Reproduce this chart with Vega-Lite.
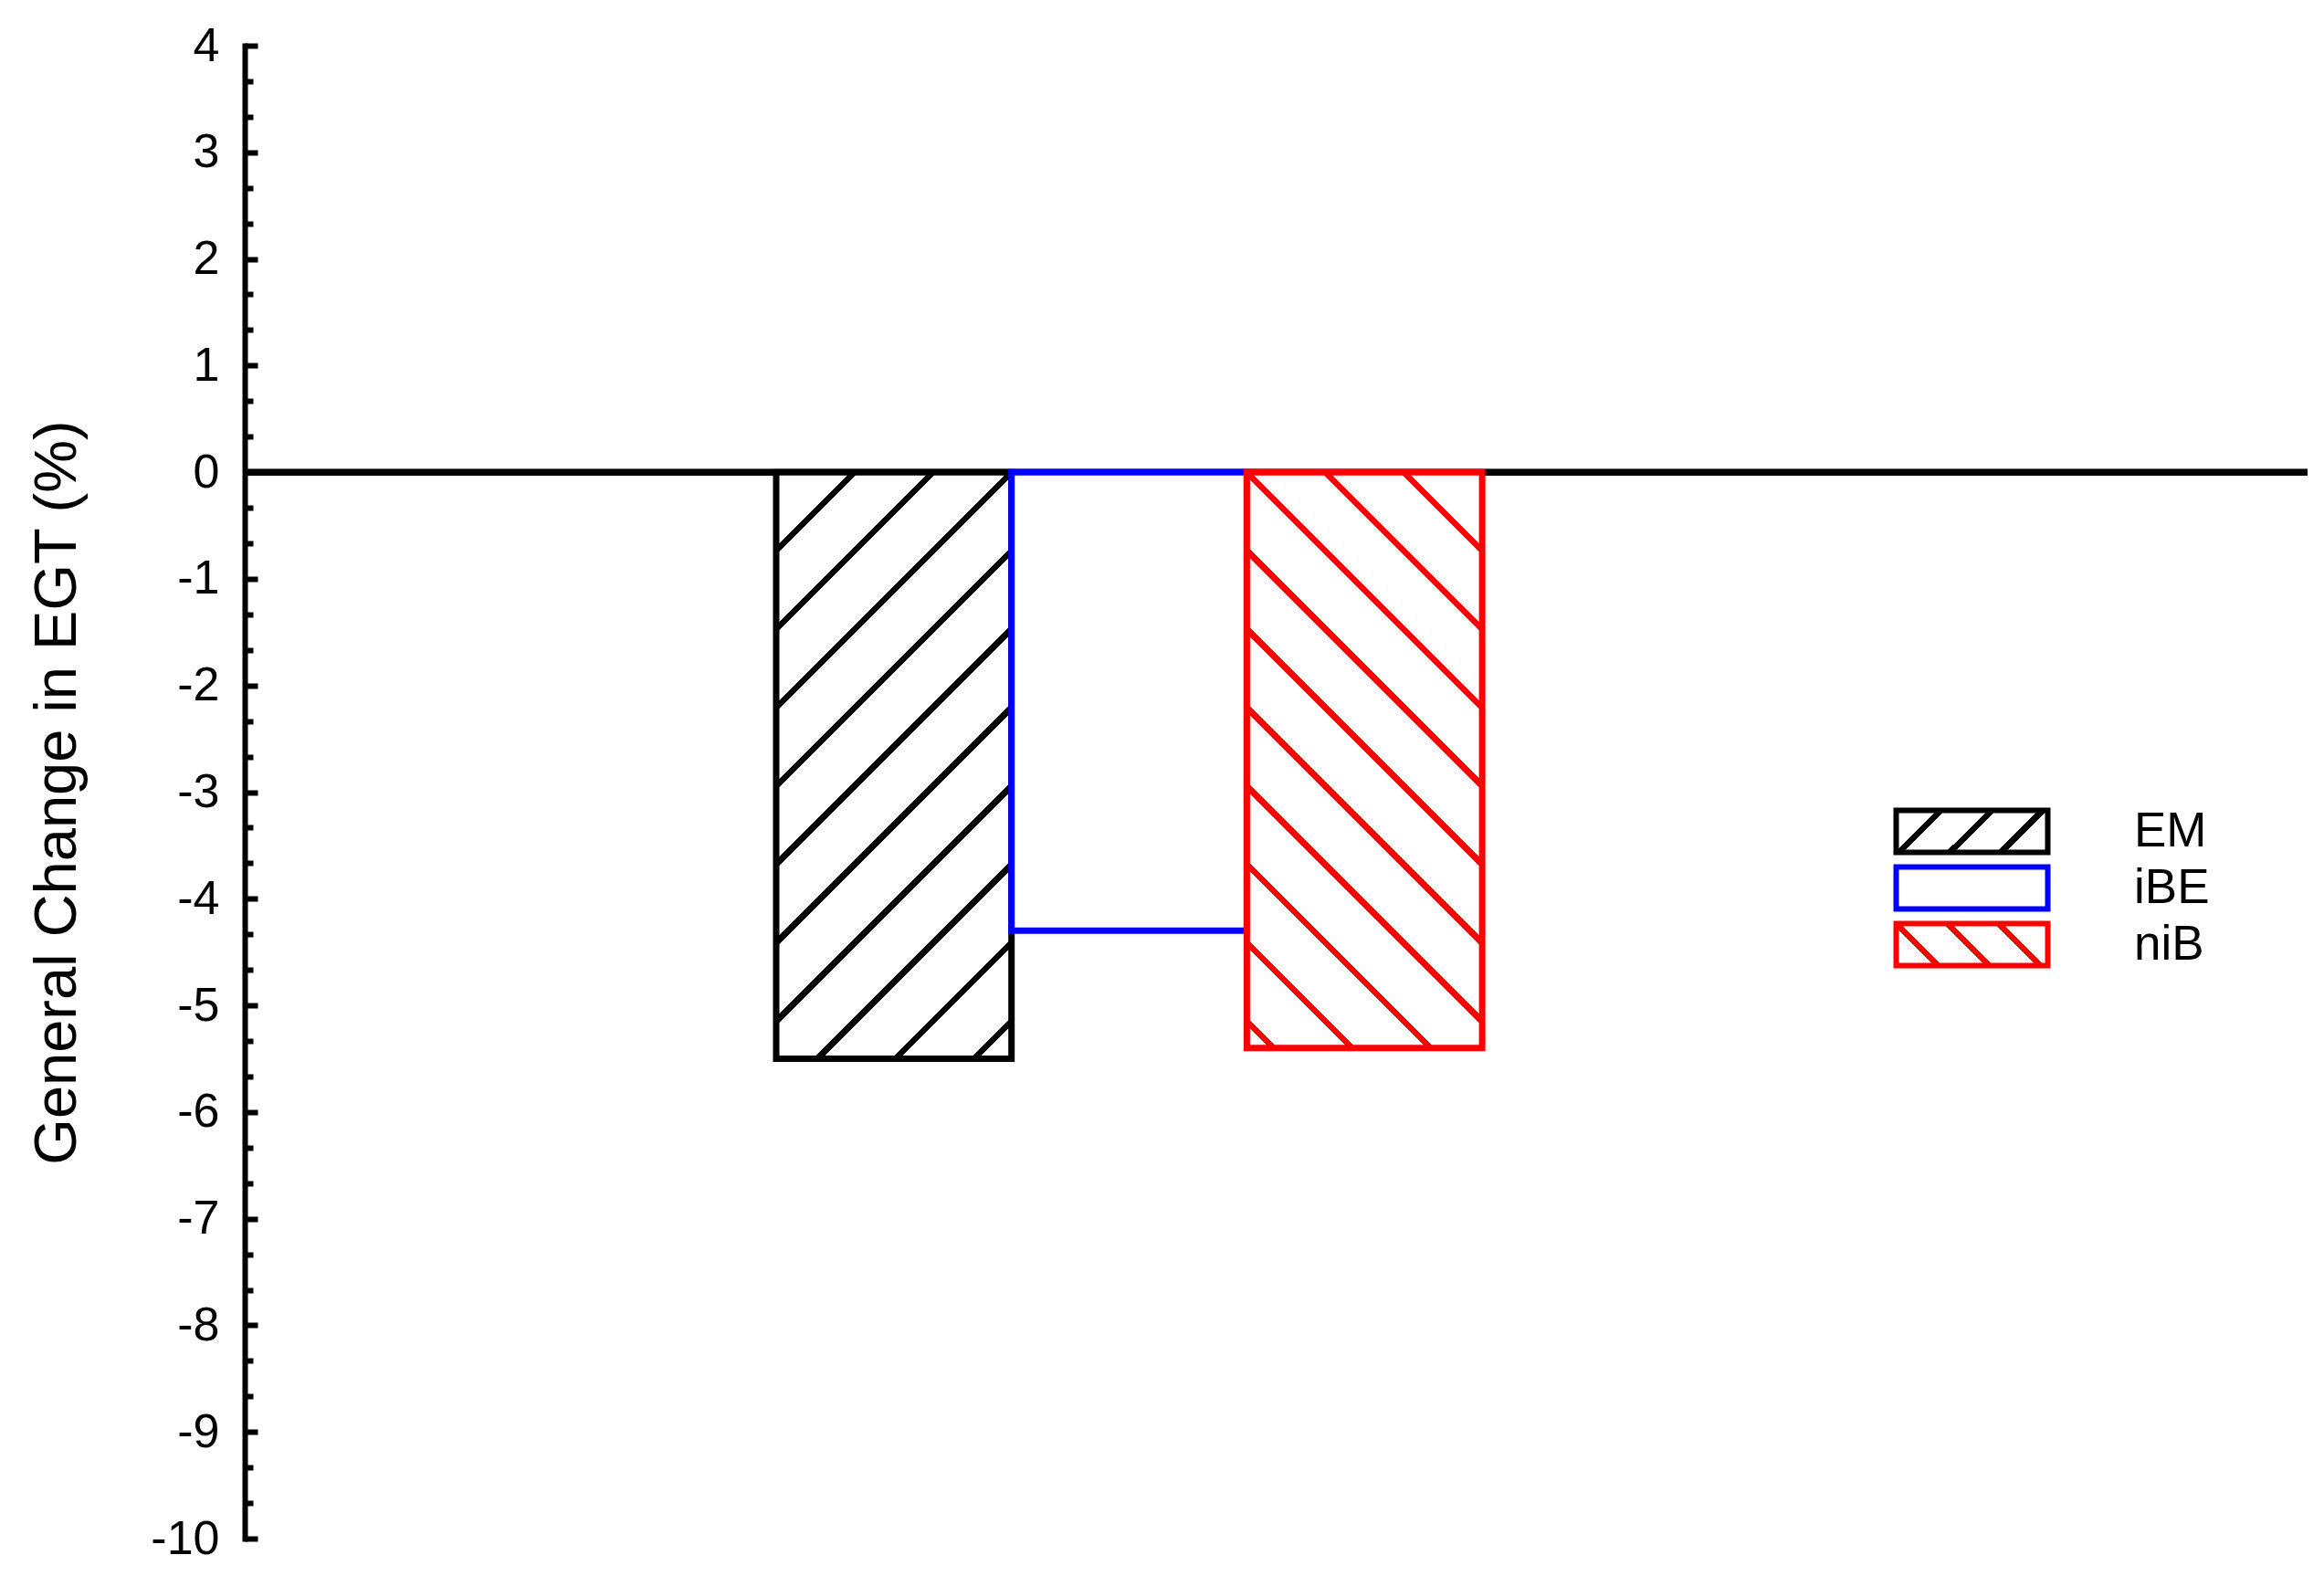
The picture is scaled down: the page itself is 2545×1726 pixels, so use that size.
{
  "$schema": "https://vega.github.io/schema/vega-lite/v6.json",
  "width": 2259,
  "height": 1635,
  "autosize": "none",
  "padding": {"left": 268, "top": 50, "right": 18, "bottom": 41},
  "background": "white",
  "config": {"view": {"stroke": null}, "font": "Liberation Sans"},
  "data": {
    "values": [
      {"measure": "EGT", "series": "EM", "change": -5.5},
      {"measure": "EGT", "series": "iBE", "change": -4.3},
      {"measure": "EGT", "series": "niB", "change": -5.4}
    ]
  },
  "layer": [
    {
      "mark": {"type": "rule", "color": "black", "strokeWidth": 7},
      "encoding": {"y": {"datum": 0, "type": "quantitative"}}
    },
    {
      "encoding": {
        "x": {
          "field": "measure",
          "type": "nominal",
          "scale": {"paddingInner": 0, "paddingOuter": 0.961, "align": 0.39168, "round": false},
          "axis": null
        },
        "xOffset": {
          "field": "series",
          "type": "nominal",
          "scale": {"domain": ["EM", "iBE", "niB"], "paddingInner": 0, "paddingOuter": 0, "round": false}
        },
        "y": {
          "field": "change",
          "type": "quantitative",
          "scale": {"domain": [-10, 4], "nice": false, "zero": false},
          "axis": {
            "values": [4, 3.6667, 3.3333, 3, 2.6667, 2.3333, 2, 1.6667, 1.3333, 1, 0.6667, 0.3333, 0, -0.3333, -0.6667, -1, -1.3333, -1.6667, -2, -2.3333, -2.6667, -3, -3.3333, -3.6667, -4, -4.3333, -4.6667, -5, -5.3333, -5.6667, -6, -6.3333, -6.6667, -7, -7.3333, -7.6667, -8, -8.3333, -8.6667, -9, -9.3333, -9.6667, -10],
            "tickCount": 200,
            "labelExpr": "datum.value % 1 === 0 ? toString(datum.value) : ''",
            "labelOverlap": false,
            "labelFlush": false,
            "labelBound": false,
            "labelFontSize": 52,
            "labelColor": "black",
            "labelPadding": 42,
            "tickSize": {"condition": {"test": "datum.value % 1 === 0", "value": -14}, "value": -9},
            "tickWidth": 6,
            "tickColor": "black",
            "domainColor": "black",
            "domainWidth": 6,
            "domainCap": "square",
            "grid": false,
            "title": "General Change in EGT (%)",
            "titleFontSize": 65,
            "titleFontWeight": "normal",
            "titleColor": "black",
            "titleAngle": -90,
            "titleAlign": "center",
            "titleBaseline": "alphabetic",
            "titleX": -186,
            "titleY": 817.5
          }
        },
        "stroke": {
          "field": "series",
          "type": "nominal",
          "scale": {"domain": ["EM", "iBE", "niB"], "range": ["#000000", "#0000ff", "#ff0000"]},
          "legend": {
            "orient": "none",
            "legendX": 1865,
            "legendY": 834,
            "title": null,
            "symbolType": "M-3.6087,-1H3.6087V1H-3.6087Z",
            "symbolSize": 2116,
            "symbolStrokeWidth": 6,
            "symbolOpacity": 1,
            "labelFontSize": 53,
            "labelColor": "black",
            "labelOffset": 151,
            "rowPadding": -9
          }
        }
      },
      "layer": [
        {
          "mark": {"type": "bar", "opacity": 0},
          "encoding": {
            "fill": {
              "field": "series",
              "type": "nominal",
              "scale": {
                "domain": ["EM", "iBE", "niB"],
                "range": [
                  {"expr": "{gradient: 'linear', x1: 0, y1: 0, x2: 1.18603, y2: 0.32866, stops: [{offset: 0, color: '#ffffff'}, {offset: 0.20755, color: '#ffffff'}, {offset: 0.20755, color: '#000000'}, {offset: 0.25471, color: '#000000'}, {offset: 0.25471, color: '#ffffff'}, {offset: 0.4717, color: '#ffffff'}, {offset: 0.4717, color: '#000000'}, {offset: 0.51886, color: '#000000'}, {offset: 0.51886, color: '#ffffff'}, {offset: 0.73585, color: '#ffffff'}, {offset: 0.73585, color: '#000000'}, {offset: 0.78301, color: '#000000'}, {offset: 0.78301, color: '#ffffff'}, {offset: 1, color: '#ffffff'}]}"},
                  "#ffffff",
                  {"expr": "{gradient: 'linear', x1: 1, y1: 0, x2: -0.18603, y2: 0.32866, stops: [{offset: 0, color: '#ffffff'}, {offset: 0.23114, color: '#ffffff'}, {offset: 0.23114, color: '#ff0000'}, {offset: 0.2783, color: '#ff0000'}, {offset: 0.2783, color: '#ffffff'}, {offset: 0.49529, color: '#ffffff'}, {offset: 0.49529, color: '#ff0000'}, {offset: 0.54245, color: '#ff0000'}, {offset: 0.54245, color: '#ffffff'}, {offset: 0.75944, color: '#ffffff'}, {offset: 0.75944, color: '#ff0000'}, {offset: 0.8066, color: '#ff0000'}, {offset: 0.8066, color: '#ffffff'}, {offset: 1, color: '#ffffff'}]}"}
                ]
              },
              "legend": {
                "orient": "none",
                "legendX": 1865,
                "legendY": 834,
                "title": null,
                "symbolType": "M-3.6087,-1H3.6087V1H-3.6087Z",
                "symbolSize": 2116,
                "symbolStrokeWidth": 6,
                "symbolOpacity": 1,
                "labelFontSize": 53,
                "labelColor": "black",
                "labelOffset": 151,
                "rowPadding": -9
              }
            }
          }
        },
        {
          "transform": [{"filter": "datum.series === 'EM'"}],
          "mark": {
            "type": "bar",
            "strokeWidth": 7,
            "fill": {
              "gradient": "linear", "x1": 0, "y1": 0, "x2": 0.48423, "y2": 1.20695,
              "stops": [
                {"offset": 0, "color": "#ffffff"},
                {"offset": 0.09022, "color": "#ffffff"}, {"offset": 0.09022, "color": "#000000"},
                {"offset": 0.10066, "color": "#000000"}, {"offset": 0.10066, "color": "#ffffff"},
                {"offset": 0.18566, "color": "#ffffff"}, {"offset": 0.18566, "color": "#000000"},
                {"offset": 0.1961, "color": "#000000"}, {"offset": 0.1961, "color": "#ffffff"},
                {"offset": 0.28111, "color": "#ffffff"}, {"offset": 0.28111, "color": "#000000"},
                {"offset": 0.29155, "color": "#000000"}, {"offset": 0.29155, "color": "#ffffff"},
                {"offset": 0.37655, "color": "#ffffff"}, {"offset": 0.37655, "color": "#000000"},
                {"offset": 0.38699, "color": "#000000"}, {"offset": 0.38699, "color": "#ffffff"},
                {"offset": 0.47199, "color": "#ffffff"}, {"offset": 0.47199, "color": "#000000"},
                {"offset": 0.48243, "color": "#000000"}, {"offset": 0.48243, "color": "#ffffff"},
                {"offset": 0.56743, "color": "#ffffff"}, {"offset": 0.56743, "color": "#000000"},
                {"offset": 0.57787, "color": "#000000"}, {"offset": 0.57787, "color": "#ffffff"},
                {"offset": 0.66287, "color": "#ffffff"}, {"offset": 0.66287, "color": "#000000"},
                {"offset": 0.67331, "color": "#000000"}, {"offset": 0.67331, "color": "#ffffff"},
                {"offset": 0.75832, "color": "#ffffff"}, {"offset": 0.75832, "color": "#000000"},
                {"offset": 0.76876, "color": "#000000"}, {"offset": 0.76876, "color": "#ffffff"},
                {"offset": 0.85376, "color": "#ffffff"}, {"offset": 0.85376, "color": "#000000"},
                {"offset": 0.8642, "color": "#000000"}, {"offset": 0.8642, "color": "#ffffff"},
                {"offset": 0.9492, "color": "#ffffff"}, {"offset": 0.9492, "color": "#000000"},
                {"offset": 0.95964, "color": "#000000"}, {"offset": 0.95964, "color": "#ffffff"},
                {"offset": 1, "color": "#ffffff"}
              ]
            }
          }
        },
        {
          "transform": [{"filter": "datum.series === 'iBE'"}],
          "mark": {"type": "bar", "strokeWidth": 7, "fill": "#ffffff"}
        },
        {
          "transform": [{"filter": "datum.series === 'niB'"}],
          "mark": {
            "type": "bar",
            "strokeWidth": 7,
            "fill": {
              "gradient": "linear", "x1": 1, "y1": 0, "x2": 0.50675, "y2": 1.20707,
              "stops": [
                {"offset": 0, "color": "#ffffff"},
                {"offset": 0.09141, "color": "#ffffff"}, {"offset": 0.09141, "color": "#ff0000"},
                {"offset": 0.10199, "color": "#ff0000"}, {"offset": 0.10199, "color": "#ffffff"},
                {"offset": 0.1881, "color": "#ffffff"}, {"offset": 0.1881, "color": "#ff0000"},
                {"offset": 0.19868, "color": "#ff0000"}, {"offset": 0.19868, "color": "#ffffff"},
                {"offset": 0.2848, "color": "#ffffff"}, {"offset": 0.2848, "color": "#ff0000"},
                {"offset": 0.29538, "color": "#ff0000"}, {"offset": 0.29538, "color": "#ffffff"},
                {"offset": 0.3815, "color": "#ffffff"}, {"offset": 0.3815, "color": "#ff0000"},
                {"offset": 0.39208, "color": "#ff0000"}, {"offset": 0.39208, "color": "#ffffff"},
                {"offset": 0.4782, "color": "#ffffff"}, {"offset": 0.4782, "color": "#ff0000"},
                {"offset": 0.48878, "color": "#ff0000"}, {"offset": 0.48878, "color": "#ffffff"},
                {"offset": 0.57489, "color": "#ffffff"}, {"offset": 0.57489, "color": "#ff0000"},
                {"offset": 0.58547, "color": "#ff0000"}, {"offset": 0.58547, "color": "#ffffff"},
                {"offset": 0.67159, "color": "#ffffff"}, {"offset": 0.67159, "color": "#ff0000"},
                {"offset": 0.68217, "color": "#ff0000"}, {"offset": 0.68217, "color": "#ffffff"},
                {"offset": 0.76829, "color": "#ffffff"}, {"offset": 0.76829, "color": "#ff0000"},
                {"offset": 0.77887, "color": "#ff0000"}, {"offset": 0.77887, "color": "#ffffff"},
                {"offset": 0.86498, "color": "#ffffff"}, {"offset": 0.86498, "color": "#ff0000"},
                {"offset": 0.87556, "color": "#ff0000"}, {"offset": 0.87556, "color": "#ffffff"},
                {"offset": 0.96168, "color": "#ffffff"}, {"offset": 0.96168, "color": "#ff0000"},
                {"offset": 0.97226, "color": "#ff0000"}, {"offset": 0.97226, "color": "#ffffff"},
                {"offset": 1, "color": "#ffffff"}
              ]
            }
          }
        }
      ]
    }
  ]
}
